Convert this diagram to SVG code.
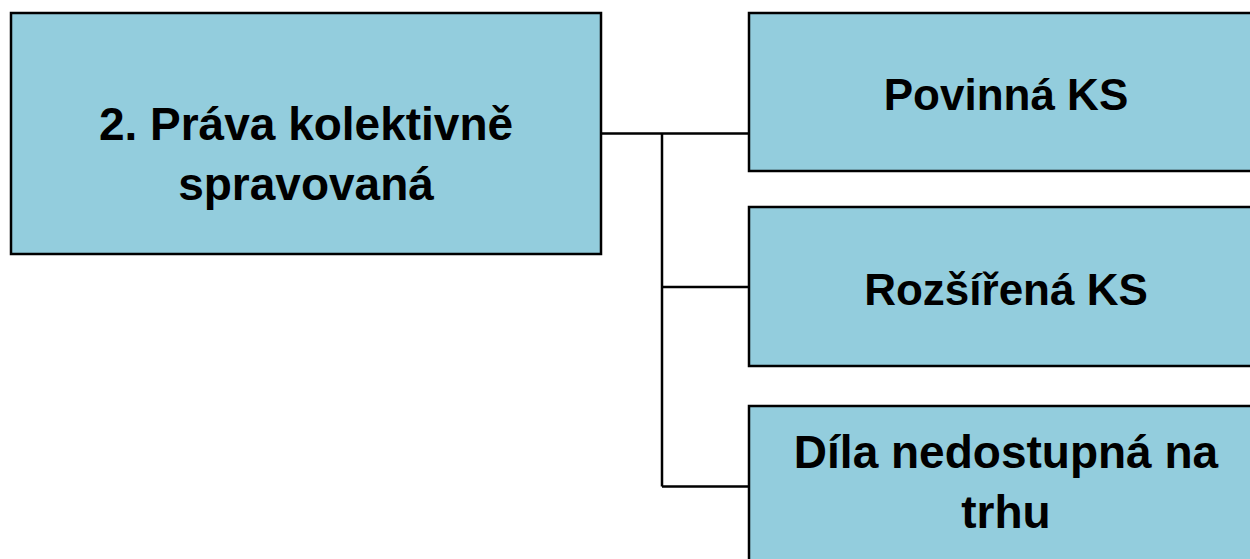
<svg xmlns="http://www.w3.org/2000/svg" width="1250" height="559" viewBox="0 0 1250 559">
<style>
.box{fill:#93CDDD;stroke:#000;stroke-width:2.5}
.t{font-family:"Liberation Sans",Arial,sans-serif;font-weight:bold;font-size:44px;fill:#000;text-anchor:middle}
.l{font-size:46px}
.c{stroke:#000;stroke-width:2.5;fill:none}
</style>
<rect width="1250" height="559" fill="#fff"/>
<g id="connectors">
<path class="c" d="M601,133.5H749M662,133.5V486.5M662,287H749M662,486.5H749"/>
</g>
<g id="n-root">
<rect class="box" x="11" y="13" width="590" height="241"/>
<text class="t l" x="306" y="140">2. Práva kolektivně</text>
<text class="t l" x="306" y="200">spravovaná</text>
</g>
<g id="n-povinna">
<rect class="box" x="749" y="13" width="520" height="158"/>
<text class="t" x="1006" y="110">Povinná KS</text>
</g>
<g id="n-rozsirena">
<rect class="box" x="749" y="207" width="520" height="159"/>
<text class="t" x="1006" y="305">Rozšířená KS</text>
</g>
<g id="n-dila">
<rect class="box" x="749" y="406" width="520" height="180"/>
<text class="t l" x="1006" y="468">Díla nedostupná na</text>
<text class="t l" x="1006" y="528">trhu</text>
</g>
</svg>
